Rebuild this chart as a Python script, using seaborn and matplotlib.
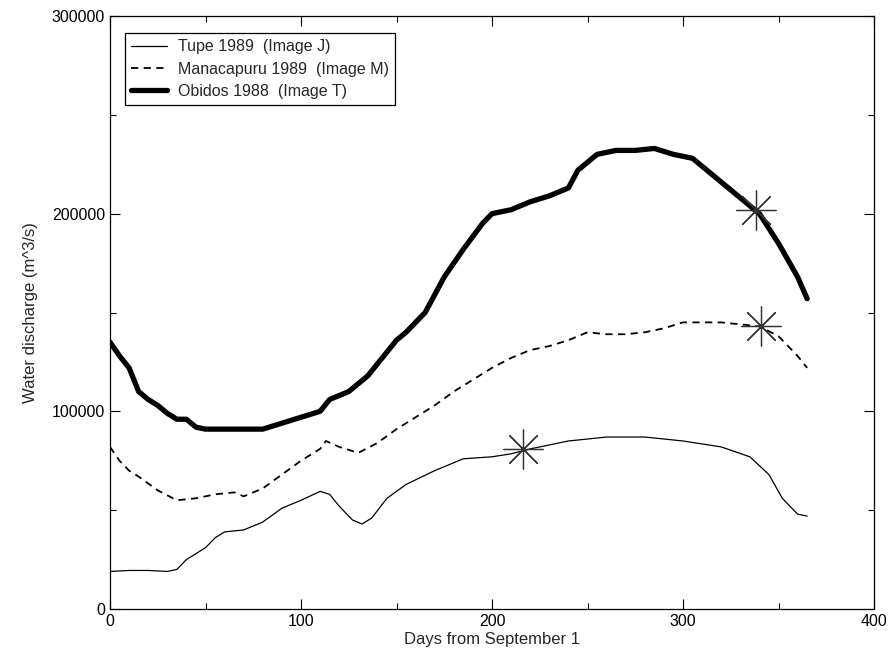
import matplotlib
matplotlib.use("Agg")
import matplotlib.pyplot as plt
import seaborn as sns
import pandas as pd
from matplotlib.ticker import MultipleLocator

sns.set_style("ticks")
plt.rcParams['font.family'] = ['Liberation Sans', 'DejaVu Sans']

# Tupe 1989 (Image J)
tupe_days = [0, 10, 20, 30, 35, 40, 45, 50, 55, 60, 70, 80, 90, 100, 110, 115, 120, 127, 132,
             137, 145, 155, 170, 185, 200, 210, 220, 240, 260, 280, 300, 320, 335, 345, 352, 360, 365]
tupe_q = [19000, 19500, 19500, 19000, 20000, 25000, 28000, 31000, 36000, 39000, 40000, 44000, 51000,
          55000, 59500, 58000, 52000, 45000, 43000, 46000, 56000, 63000, 70000, 76000, 77000, 78500,
          81000, 85000, 87000, 87000, 85000, 82000, 77000, 68000, 56000, 48000, 47000]

# Manacapuru 1989 (Image M)
mana_days = [0, 5, 10, 15, 25, 35, 45, 55, 65, 70, 80, 90, 100, 110, 113, 120, 130, 140, 150, 160,
             170, 180, 190, 200, 210, 220, 230, 240, 250, 260, 270, 280, 290, 300, 310, 320, 330,
             340, 350, 360, 365]
mana_q = [82000, 75000, 70000, 67000, 60000, 55000, 56000, 58000, 59000, 57000, 61000, 68000, 75000,
          81000, 85000, 82000, 79000, 84000, 91000, 97000, 103000, 110000, 116000, 122000, 127000,
          131000, 133000, 136000, 140000, 139000, 139000, 140000, 142000, 145000, 145000, 145000,
          144000, 143000, 138000, 128000, 122000]

# Obidos 1988 (Image T)
obi_days = [0, 5, 10, 15, 20, 25, 30, 35, 40, 45, 50, 60, 70, 80, 90, 100, 110, 115, 125, 135, 145,
            150, 155, 165, 175, 185, 195, 200, 210, 220, 230, 240, 245, 255, 265, 275, 285, 295, 305,
            315, 325, 335, 340, 350, 360, 365]
obi_q = [135000, 128000, 122000, 110000, 106000, 103000, 99000, 96000, 96000, 92000, 91000, 91000,
         91000, 91000, 94000, 97000, 100000, 106000, 110000, 118000, 130000, 136000, 140000, 150000,
         168000, 182000, 195000, 200000, 202000, 206000, 209000, 213000, 222000, 230000, 232000,
         232000, 233000, 230000, 228000, 220000, 212000, 204000, 200000, 185000, 168000, 157000]

# Image acquisition markers
star_days = [216, 341, 338]
star_q = [80700, 143000, 202000]

labels = ["Tupe 1989  (Image J)", "Manacapuru 1989  (Image M)", "Obidos 1988  (Image T)"]

W, H = 892, 649
L, R, T, B = 110, 874, 16, 609
fig = plt.figure(figsize=(W / 100, H / 100), dpi=100)
ax = fig.add_axes([L / W, 1 - B / H, (R - L) / W, (B - T) / H])

df_t = pd.DataFrame({"day": tupe_days, "q": tupe_q})
df_m = pd.DataFrame({"day": mana_days, "q": mana_q})
df_o = pd.DataFrame({"day": obi_days, "q": obi_q})

sns.lineplot(data=df_t, x="day", y="q", ax=ax, color="black", linewidth=0.9, label=labels[0])
sns.lineplot(data=df_m, x="day", y="q", ax=ax, color="black", linewidth=1.3,
             linestyle=(0, (4, 3)), label=labels[1])
sns.lineplot(data=df_o, x="day", y="q", ax=ax, color="black", linewidth=3.8, label=labels[2])

df_s = pd.DataFrame({"day": star_days, "q": star_q})
sns.scatterplot(data=df_s, x="day", y="q", ax=ax, marker=(8, 2, 0), s=800,
                color="#333333", linewidth=0.9, zorder=5, legend=False)

ax.set_xlim(0, 400)
ax.set_ylim(0, 300000)
ax.xaxis.set_major_locator(MultipleLocator(100))
ax.xaxis.set_minor_locator(MultipleLocator(50))
ax.yaxis.set_major_locator(MultipleLocator(100000))
ax.yaxis.set_minor_locator(MultipleLocator(50000))
ax.tick_params(which="both", direction="in", top=True, right=True, labelsize=11.5, colors="black")
ax.tick_params(which="major", length=7, width=0.8)
ax.tick_params(which="minor", length=4, width=0.8)
for s in ax.spines.values():
    s.set_visible(True)
    s.set_linewidth(0.9)
    s.set_color("black")

ax.set_xlabel("Days from September 1", fontsize=12, labelpad=2)
ax.set_ylabel("Water discharge (m^3/s)", fontsize=12, labelpad=10)

leg = ax.legend(loc="upper left", bbox_to_anchor=((125 - L) / (R - L), 1 - (33 - T) / (B - T)),
                fontsize=11.5, frameon=True, fancybox=False, edgecolor="black", framealpha=1,
                handlelength=2.2, borderpad=0.4, labelspacing=0.45, handletextpad=0.7,
                borderaxespad=0.0)
leg.get_frame().set_linewidth(0.9)

fig.savefig("out.png", dpi=100)
